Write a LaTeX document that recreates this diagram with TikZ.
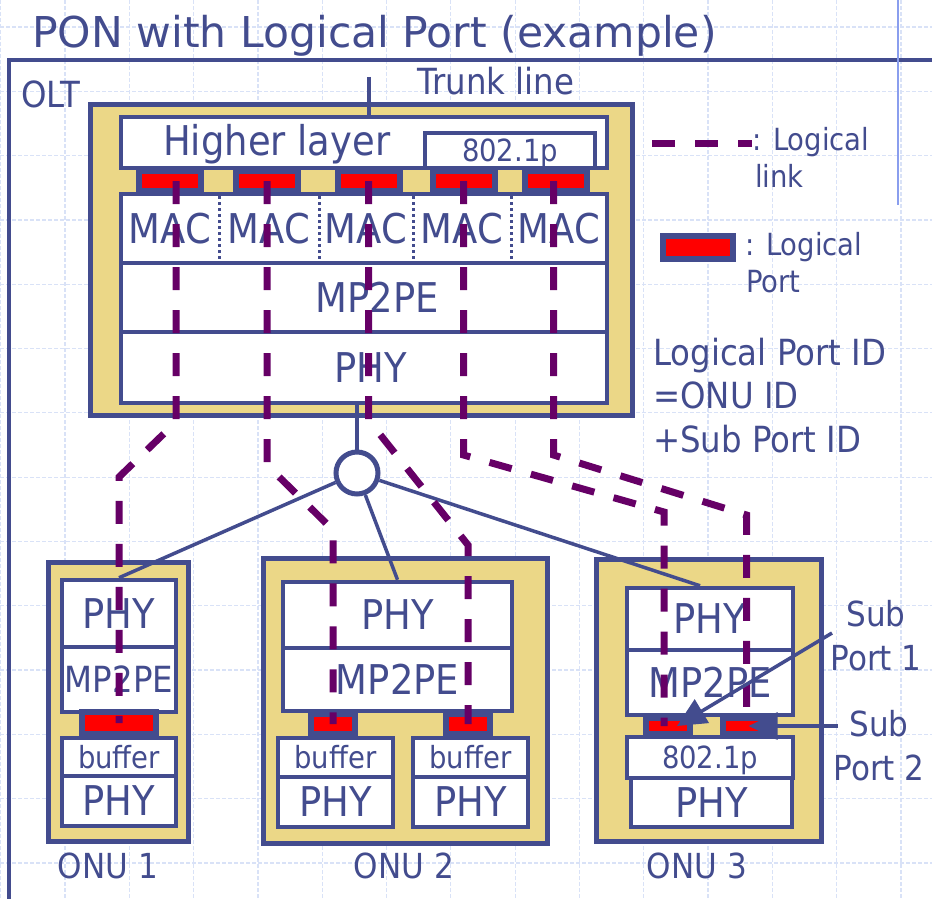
\documentclass[tikz,border=0pt]{standalone}
\usepackage{fontspec}
\setmainfont{DejaVu Sans}[FakeStretch=0.9]
\newfontfamily\titlefont{DejaVu Sans}
\usetikzlibrary{arrows.meta}

\definecolor{ponblue}{HTML}{434C8E}
\definecolor{ponyellow}{HTML}{EBD787}
\definecolor{linkpurple}{HTML}{660066}
\definecolor{portred}{HTML}{FF0000}
\definecolor{gridblue}{HTML}{D9E2F7}
\definecolor{edgeblue}{HTML}{8A9EEE}

\newcommand\txtbig{\fontsize{41}{46}\selectfont}
\newcommand\txtmid{\fontsize{36}{43.5}\selectfont}
\newcommand\txtonu{\fontsize{34.5}{44}\selectfont}
\newcommand\txtsmall{\fontsize{30.5}{37}\selectfont}

\tikzset{
  unitbox/.style={draw=ponblue, line width=5pt, fill=ponyellow, inner sep=0pt},
  layerbox/.style={draw=ponblue, line width=4.5pt, fill=white, inner sep=0pt, text=ponblue, font=\txtbig},
  lport/.style={draw=ponblue, line width=6pt, fill=portred, inner sep=0pt},
  lbl/.style={text=ponblue, inner sep=0pt, anchor=base west},
  loglink/.style={draw=linkpurple, line width=7pt, dash pattern=on 23pt off 20pt},
  fibre/.style={draw=ponblue, line width=3.5pt},
  divider/.style={draw=ponblue, line width=3pt, dash pattern=on 3pt off 3pt},
  gridline/.style={draw=gridblue, line width=1.2pt, dash pattern=on 4pt off 2pt},
  subarrow/.style={draw=ponblue, line width=3.5pt, -{Triangle[length=29pt,width=27pt]}},
}

\begin{document}
\begin{tikzpicture}[x=1pt,y=-1pt]
\useasboundingbox (0,0) rectangle (932,899);

% Grid
\foreach \i in {0,...,14} {\draw[gridline] ({0.7+64.3*\i},0) -- ({0.7+64.3*\i},899);}
\foreach \i in {0,...,13} {\draw[gridline] (0,{27+64.3*\i}) -- (932,{27+64.3*\i});}

% Frame
\draw[ponblue, line width=4pt] (9,899) -- (9,60) -- (932,60);
\draw[edgeblue, line width=2pt] (898,0) -- (898,205);

\node[lbl, font={\titlefont\fontsize{42.5}{48}\selectfont}] (title) at (32,48) {PON with Logical Port (example)};

% OLT
\node[lbl, font=\txtmid] (oltlbl) at (21,107) {OLT};
\node[unitbox, minimum width=542pt, minimum height=311pt] (olt) at (361,259.5) {};
\node[layerbox, minimum width=486pt, minimum height=51pt] (hl) at (364,142.5) {};
\node[lbl, font=\txtbig] (hltxt) at (163,155) {Higher layer};
\node[layerbox, font=\txtsmall, text depth=0pt, minimum width=170pt, minimum height=35pt] (olttag) at (510,150.5) {802.1p};
\node[layerbox, minimum width=486pt, minimum height=69pt] (mac) at (364,228.5) {};
\node[layerbox, minimum width=486pt, minimum height=69pt] (oltmp) at (364,297.5) {};
\node[layerbox, minimum width=486pt, minimum height=71pt] (oltphy) at (364,367.5) {};
\foreach \x [count=\i] in {170,269,366,462,559}
  \node[font=\txtbig, text=ponblue] (mac\i) at (\x,228.5) {MAC};
\foreach \x in {219,319,413,511}
  \draw[divider] (\x,196) -- (\x,261);
\node[font=\txtbig, text=ponblue] (oltmptxt) at (377,297.5) {MP2PE};
\node[font=\txtbig, text=ponblue] (oltphytxt) at (371,367.5) {PHY};
\foreach \x [count=\i] in {170,267,368.5,463.5,555.5}
  \node[lport, minimum width=62pt, minimum height=20pt] (p\i) at (\x,181) {};

% Trunk line
\coordinate (trunk) at (369,77);
\draw[fibre] (trunk) -- (trunk |- hl.north);
\node[lbl, font=\txtmid] (trunklbl) at (417,95) {Trunk line};

% Splitter
\node[circle, draw=ponblue, line width=5pt, fill=white, minimum size=42pt, inner sep=0pt] (split) at (357,473) {};
\draw[fibre] (split.north) -- (split.north |- oltphy.south);

% ONU 1
\node[unitbox, minimum width=140pt, minimum height=279pt] (onu1) at (118,701.5) {};
\node[layerbox, minimum width=114pt, minimum height=67pt] (o1phy) at (119,613.5) {PHY};
\node[layerbox, font=\fontsize{36}{40}\selectfont, minimum width=114pt, minimum height=65pt] (o1mp) at (119,679.5) {MP2PE};
\node[layerbox, font=\txtsmall, minimum width=114pt, minimum height=38pt] (o1buf) at (119,757) {buffer};
\node[layerbox, minimum width=114pt, minimum height=50pt] (o1phyb) at (119,801) {PHY};
\node[lport, minimum width=74pt, minimum height=22pt] (o1p) at (119,723) {};
\node[lbl, anchor=base, font=\txtonu] (onu1lbl) at (108,878) {ONU 1};

% ONU 2
\node[unitbox, minimum width=284pt, minimum height=285pt] (onu2) at (405,700.5) {};
\node[layerbox, minimum width=229pt, minimum height=66pt] (o2phy) at (397.5,615) {PHY};
\node[layerbox, minimum width=229pt, minimum height=63pt] (o2mp) at (397.5,679.5) {MP2PE};
\node[layerbox, font=\txtsmall, minimum width=115pt, minimum height=39pt] (o2bufa) at (335.5,757.5) {buffer};
\node[layerbox, minimum width=115pt, minimum height=50pt] (o2phya) at (335.5,802) {PHY};
\node[layerbox, font=\txtsmall, minimum width=115pt, minimum height=39pt] (o2bufb) at (470.5,757.5) {buffer};
\node[layerbox, minimum width=115pt, minimum height=50pt] (o2phyb) at (470.5,802) {PHY};
\node[lport, minimum width=44pt, minimum height=20pt] (o2pa) at (333,724) {};
\node[lport, minimum width=44pt, minimum height=20pt] (o2pb) at (468,724) {};
\node[lbl, anchor=base, font=\txtonu] (onu2lbl) at (404,878) {ONU 2};

% ONU 3
\node[unitbox, minimum width=225pt, minimum height=282pt] (onu3) at (708.5,700) {};
\node[layerbox, minimum width=166pt, minimum height=62pt] (o3phy) at (710,619) {PHY};
\node[layerbox, minimum width=166pt, minimum height=65pt] (o3mp) at (710,682.5) {MP2PE};
\node[layerbox, font=\txtsmall, text depth=0pt, minimum width=166pt, minimum height=41pt] (o3tag) at (710,757.5) {802.1p};
\node[layerbox, minimum width=161pt, minimum height=49pt] (o3phyb) at (711.5,802.5) {PHY};
\node[lport, minimum width=44pt, minimum height=16pt] (o3pa) at (668,726) {};
\node[lport, minimum width=51pt, minimum height=16pt] (o3pb) at (748.5,726) {};
\node[lbl, anchor=base, font=\txtonu] (onu3lbl) at (697,878) {ONU 3};

% Fibres
\draw[fibre] (split) -- (o1phy.north);
\draw[fibre] (split) -- (o2phy.north);
\draw[fibre] (split) -- ([xshift=-10pt]o3phy.north);

% Logical links
\draw[loglink] ([xshift=6pt]p1.center) -- ++(0,241) -- ++(-57,55) -- (o1p.center);
\draw[loglink] (p2.center) -- ++(0,284) -- ++(66,65) -- (o2pa.center);
\draw[loglink] (p3.center) -- ++(0,239) -- ++(99.5,125) -- (o2pb.center);
\draw[loglink] (p4.center) -- ++(0,274) -- ++(200.5,57) -- ([xshift=-4pt]o3pa.center);
\draw[loglink] ([xshift=-2pt]p5.center) -- ++(0,274) -- ++(193,60) -- ([xshift=-2pt]o3pb.center);

% Legend
\draw[loglink] (652,143) -- (752,143);
\node[lbl, font=\txtsmall] (lglink) at (752,150) {: Logical};
\node[lbl, font=\txtsmall] (lglink2) at (755,187) {link};
\node[lport, minimum width=70pt, minimum height=23pt] (lgport) at (698,247.5) {};
\node[lbl, font=\txtsmall] (lgporttxt) at (745,255) {: Logical};
\node[lbl, font=\txtsmall] (lgporttxt2) at (746,292) {Port};
\node[lbl, font=\txtmid, align=left] (portid) at (653,452) {Logical Port ID\\=ONU ID\\+Sub Port ID};

% Sub ports
\node[lbl, anchor=base, font=\txtonu, align=center] (sp1) at (876,670) {Sub\\Port 1};
\node[lbl, anchor=base, font=\txtonu, align=center] (sp2) at (879,780) {Sub\\Port 2};
\coordinate (sp1tail) at (832,633);
\coordinate (sp2tail) at (838,726);
\draw[subarrow] (sp1tail) -- ([xshift=9pt]o3pa.center);
\draw[subarrow] (sp2tail) -- (o3pb.center);

\end{tikzpicture}
\end{document}
